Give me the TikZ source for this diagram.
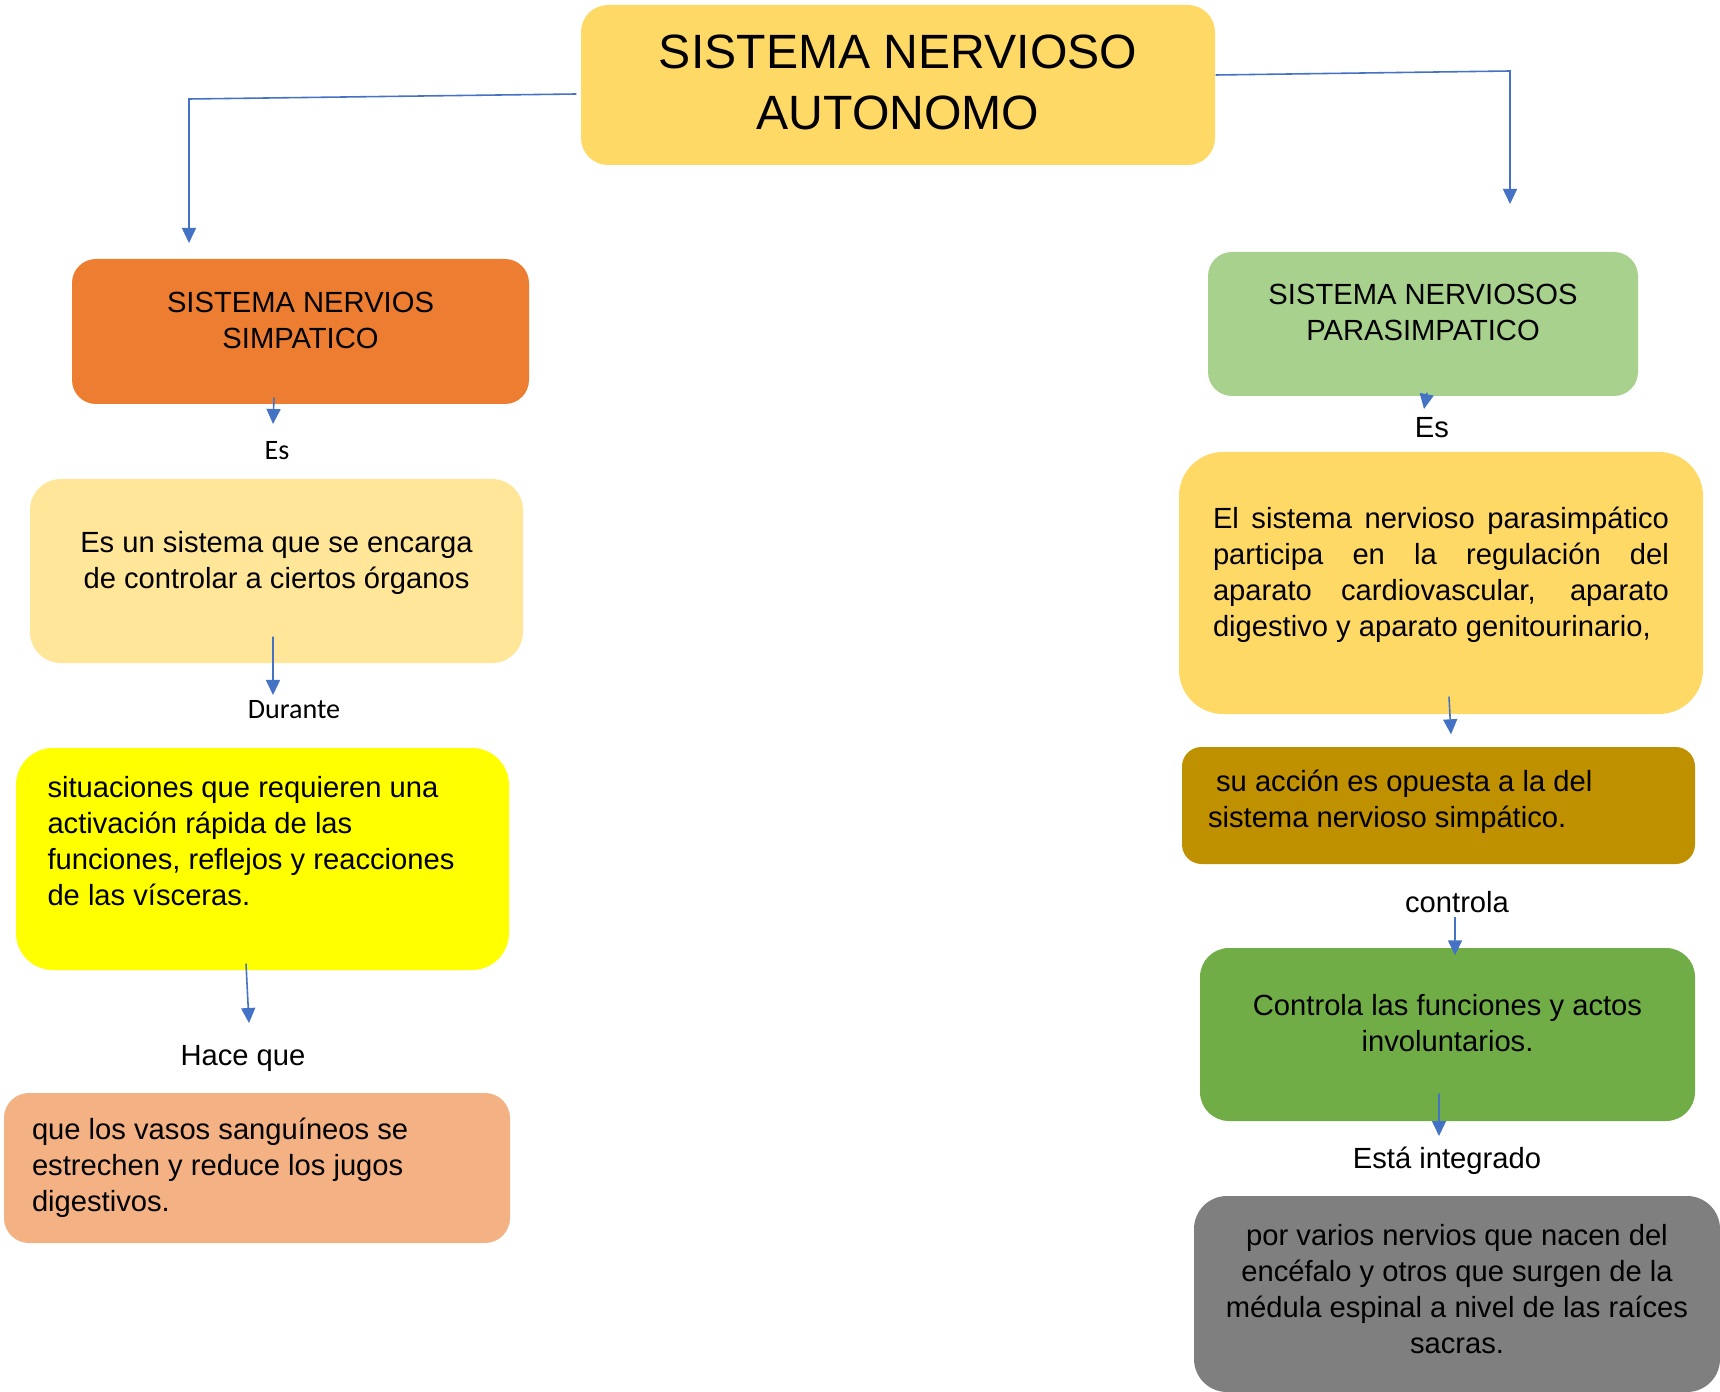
\documentclass[tikz,border=0pt]{standalone}
\usepackage{fontspec}
\setmainfont{Liberation Sans}
\newfontfamily\calibri{Carlito}
\usetikzlibrary{positioning,arrows.meta}

\definecolor{oroclaro}{HTML}{FFD966}
\definecolor{naranja}{HTML}{ED7D31}
\definecolor{crema}{HTML}{FFE699}
\definecolor{amarillo}{HTML}{FFFF00}
\definecolor{salmon}{HTML}{F4B183}
\definecolor{verdeclaro}{HTML}{A9D18E}
\definecolor{oroscuro}{HTML}{BF9000}
\definecolor{verde}{HTML}{70AD47}
\definecolor{gris}{HTML}{7F7F7F}
\definecolor{azul}{HTML}{4472C4}

\tikzset{
  caja/.style={rectangle, draw=none, inner sep=0pt},
  texto/.style={inner sep=0pt, font=\fontsize{8.3}{10.24}\selectfont},
  etiqueta/.style={inner sep=0pt, anchor=base, font=\fontsize{8.3}{10.24}\selectfont},
  etiquetacal/.style={etiqueta, font=\calibri\fontsize{8}{10}\selectfont},
  flecha/.style={draw=azul, line width=0.45pt, -{Triangle[length=1.5mm,width=1.4mm]}},
}

\begin{document}
\begin{tikzpicture}
\path[use as bounding box, fill=white] (0,0) rectangle (17.2,-13.92);

% cajas
\node[caja, fill=oroclaro, rounded corners=0.27cm, minimum width=6.34cm, minimum height=1.60cm] (titulo) at (8.98,-0.85) {};
\node[caja, fill=naranja, rounded corners=0.24cm, minimum width=4.57cm, minimum height=1.45cm] (simp) at (3.005,-3.315) {};
\node[caja, fill=crema, rounded corners=0.31cm, minimum width=4.93cm, minimum height=1.84cm] (encarga) at (2.765,-5.71) {};
\node[caja, fill=amarillo, rounded corners=0.37cm, minimum width=4.93cm, minimum height=2.22cm] (situa) at (2.625,-8.59) {};
\node[caja, fill=salmon, rounded corners=0.25cm, minimum width=5.06cm, minimum height=1.50cm] (vasos) at (2.57,-11.68) {};
\node[caja, fill=verdeclaro, rounded corners=0.24cm, minimum width=4.30cm, minimum height=1.44cm] (para) at (14.23,-3.24) {};
\node[caja, fill=oroclaro, rounded corners=0.44cm, minimum width=5.24cm, minimum height=2.62cm] (regula) at (14.41,-5.83) {};
\node[caja, fill=oroscuro, rounded corners=0.195cm, minimum width=5.13cm, minimum height=1.17cm] (opuesta) at (14.385,-8.055) {};
\node[caja, fill=verde, rounded corners=0.29cm, minimum width=4.95cm, minimum height=1.73cm] (involun) at (14.475,-10.345) {};
\node[caja, fill=gris, rounded corners=0.33cm, minimum width=5.26cm, minimum height=1.96cm] (nervios) at (14.57,-12.94) {};

% textos
\node[texto, align=center, font=\fontsize{13.7}{17.2}\selectfont, below=0.30cm of titulo.north] (titulotxt) {SISTEMA NERVIOSO\\AUTONOMO};
\node[texto, align=center, below=0.33cm of simp.north] (simptxt) {SISTEMA NERVIOS\\SIMPATICO};
\node[texto, align=center, below=0.52cm of encarga.north] (encargatxt) {Es un sistema que se encarga\\de controlar a ciertos órganos};
\node[texto, align=left, below right=0.285cm and 0.315cm of situa.north west] (situatxt) {situaciones que requieren una\\activación rápida de las\\funciones, reflejos y reacciones\\de las vísceras.};
\node[texto, align=left, below right=0.25cm and 0.28cm of vasos.north west] (vasostxt) {que los vasos sanguíneos se\\estrechen y reduce los jugos\\digestivos.};
\node[texto, align=center, below=0.32cm of para.north] (paratxt) {SISTEMA NERVIOSOS\\PARASIMPATICO};
\node[texto, text width=4.56cm, align=justify, below right=0.55cm and 0.34cm of regula.north west] (regulatxt) {El sistema nervioso parasimpático\linebreak participa en la regulación del\linebreak aparato cardiovascular, aparato\linebreak digestivo y aparato genitourinario,};
\node[texto, align=left, below right=0.23cm and 0.26cm of opuesta.north west] (opuestatxt) {\hspace*{0.278em}su acción es opuesta a la del\\sistema nervioso simpático.};
\node[texto, align=center, below=0.46cm of involun.north] (involuntxt) {Controla las funciones y actos\\involuntarios.};
\node[texto, align=center, below=0.28cm of nervios.north] (nerviostxt) {por varios nervios que nacen del\\encéfalo y otros que surgen de la\\médula espinal a nivel de las raíces\\sacras.};

% etiquetas
\node[etiquetacal] (es1) at (2.77,-4.60) {Es};
\node[etiquetacal] (durante) at (2.94,-7.18) {Durante};
\node[etiqueta] (hace) at (2.43,-10.65) {Hace que};
\node[etiqueta] (es2) at (14.32,-4.38) {Es};
\node[etiqueta] (controla) at (14.57,-9.12) {controla};
\node[etiqueta] (esta) at (14.47,-11.68) {Está integrado};

% conectores
\coordinate (codoizq) at (1.89,-0.99);
\coordinate (finizq) at (1.89,-2.43);
\coordinate (cododer) at (15.10,-0.71);
\coordinate (finder) at (15.10,-2.04);
\draw[flecha] ([xshift=-0.04cm,yshift=-0.09cm]titulo.west) -- (codoizq) -- (finizq);
\draw[flecha] ([yshift=0.10cm]titulo.east) -- (cododer) -- (finder);

\draw[flecha] ([xshift=-0.265cm,yshift=0.07cm]simp.south) -- ([xshift=-0.04cm,yshift=0.36cm]es1.base);
\draw[flecha] ([xshift=-0.035cm,yshift=0.27cm]encarga.south) -- ([xshift=-0.21cm,yshift=0.23cm]durante.base);
\draw[flecha] ([xshift=-0.165cm,yshift=0.07cm]situa.south) -- ([xshift=0.06cm,yshift=0.42cm]hace.base);
\draw[flecha] ([xshift=0.04cm,yshift=0.04cm]para.south) -- ([xshift=-0.08cm,yshift=0.29cm]es2.base);
\draw[flecha] ([xshift=0.08cm,yshift=0.18cm]regula.south) -- ([xshift=0.125cm,yshift=0.12cm]opuesta.north);
\draw[flecha] ([xshift=-0.02cm,yshift=-0.05cm]controla.base) -- ([xshift=0.075cm,yshift=-0.08cm]involun.north);
\draw[flecha] ([xshift=-0.085cm,yshift=0.28cm]involun.south) -- ([xshift=-0.08cm,yshift=0.32cm]esta.base);
\end{tikzpicture}
\end{document}
